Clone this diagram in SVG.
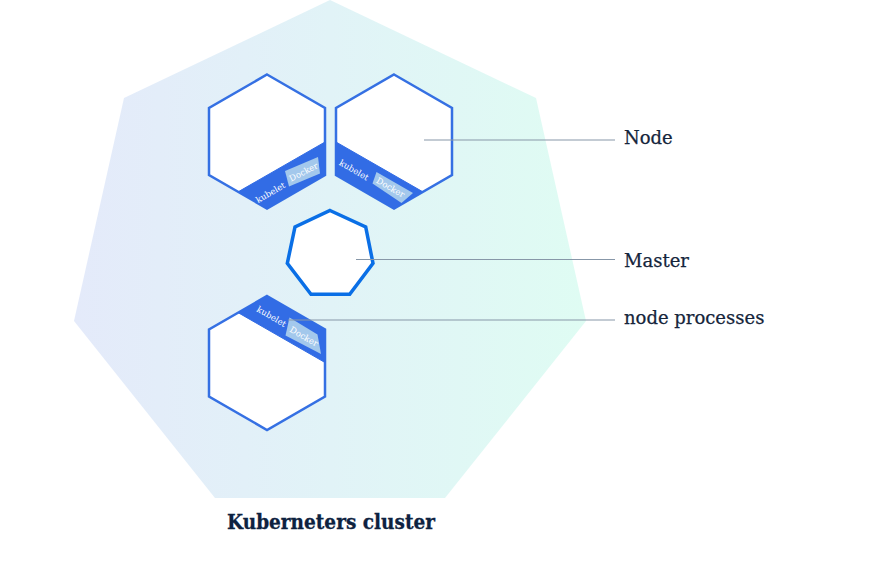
<svg xmlns="http://www.w3.org/2000/svg" width="889" height="562" viewBox="0 0 889 562">
  <defs>
    <linearGradient id="bgGrad" x1="74" y1="0" x2="586" y2="0" gradientUnits="userSpaceOnUse">
      <stop offset="0" stop-color="#e4eafa"/>
      <stop offset="0.5" stop-color="#e1f3f7"/>
      <stop offset="1" stop-color="#dffcf3"/>
    </linearGradient>
    <style>
      .hex { fill: #ffffff; stroke: #3570e3; stroke-width: 2.5; stroke-linejoin: miter; }
      .band { fill: #326ce5; stroke: #326ce5; stroke-width: 1; stroke-linejoin: round; }
      .dock { fill: #a3c8ec; }
      .proc { font-family: "DejaVu Serif", "Liberation Serif", serif; font-size: 8.5px; fill: #ffffff; text-anchor: middle; dominant-baseline: central; }
      .lead { stroke: #8797a8; stroke-width: 1; fill: none; }
      .lbl { font-family: "DejaVu Serif", "Liberation Serif", serif; font-size: 18px; fill: #15253b; stroke: #15253b; stroke-width: 0.25; }
      .title { font-family: "DejaVu Serif", "Liberation Serif", serif; font-size: 20.5px; font-weight: bold; fill: #0d2240; stroke: #0d2240; stroke-width: 0.3; text-anchor: middle; }
    </style>
  </defs>

  <g id="cluster">
    <polygon points="330,0 536,98 586,321 445,498 215,498 74,321 124,98" fill="url(#bgGrad)"/>
    <text class="title" x="331" y="529" textLength="208" lengthAdjust="spacingAndGlyphs">Kuberneters cluster</text>
  </g>

  <g id="node1">
    <polygon class="hex" points="267,74.5 325,108 325,175 267,208.5 209,175 209,108"/>
    <polygon class="band" points="238.2,191.8 325,142 325,175 267,208.5"/>
    <polygon class="dock" points="285,171 318,157 320,173.5 289,186.5"/>
    <text class="proc" transform="translate(270.5,192.5) rotate(-30)">kubelet</text>
    <text class="proc" transform="translate(303.5,172) rotate(-27)">Docker</text>
  </g>

  <g id="node2">
    <polygon class="hex" points="394,74.5 452,108 452,175 394,208.5 336,175 336,108"/>
    <polygon class="band" points="336,142 422.8,191.8 394,208.5 336,175"/>
    <polygon class="dock" points="376.5,172 413,193 401.5,203 372.5,183.5"/>
    <text class="proc" transform="translate(354,170) rotate(30)">kubelet</text>
    <text class="proc" transform="translate(390.5,187.5) rotate(30)">Docker</text>
  </g>

  <g id="master">
    <polygon points="330,210.5 365.7,227 373,263.3 349.7,294.3 311,294.3 287.3,263.3 295,227" fill="#ffffff" stroke="#0a6fe6" stroke-width="3.5" stroke-linejoin="miter"/>
  </g>

  <g id="node3">
    <polygon class="hex" points="267,296 325,329.5 325,396.5 267,430 209,396.5 209,329.5"/>
    <polygon class="band" points="238.2,312.7 267,296 325,329.5 325,362.5"/>
    <polygon class="dock" points="289.5,317.5 317.5,334.5 321,354 285.5,335.5"/>
    <text class="proc" transform="translate(271.5,316.5) rotate(30)">kubelet</text>
    <text class="proc" transform="translate(304,336.5) rotate(30)">Docker</text>
  </g>

  <g id="connectors">
    <line class="lead" x1="424" y1="140" x2="615" y2="140"/>
    <line class="lead" x1="356" y1="259.5" x2="615" y2="259.5"/>
    <line class="lead" x1="288" y1="320" x2="615" y2="320"/>
  </g>

  <g id="labels">
    <text class="lbl" x="624" y="144">Node</text>
    <text class="lbl" x="624" y="266.5">Master</text>
    <text class="lbl" x="624" y="323.5">node processes</text>
  </g>
</svg>
